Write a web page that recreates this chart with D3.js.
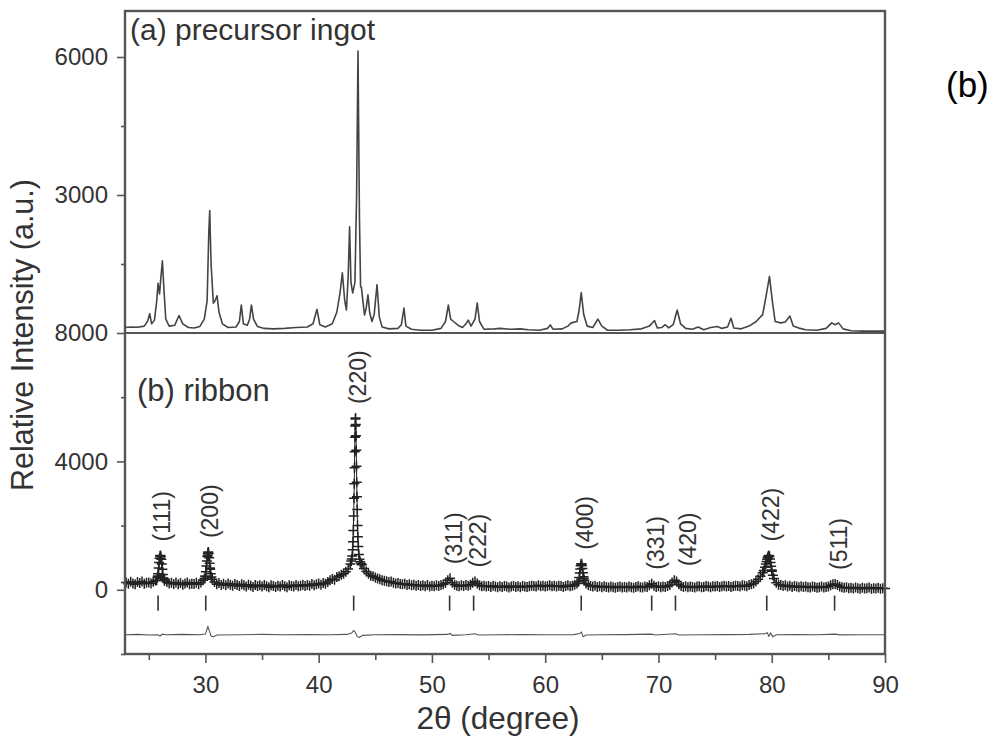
<!DOCTYPE html>
<html>
<head>
<meta charset="utf-8">
<script src="https://cdn.jsdelivr.net/npm/d3@7"></script>
<style>
  body { margin: 0; background: #fff; }
  svg { display: block; }
  text { font-family: "Liberation Sans", Arial, Helvetica, sans-serif; }
</style>
</head>
<body>
<svg id="chart" width="1000" height="737"></svg>
<script>
// ---- 2θ axis ----
const twoThetaRange = [22.9, 90];
const xMajorTicks = [30, 40, 50, 60, 70, 80, 90];
const xMinorTicks = [25, 35, 45, 55, 65, 75, 85];

// ---- intensity axes ----
const ingotRange = [0, 7000];
const ingotMajorTicks = [3000, 6000];
const ingotMinorTicks = [1500, 4500];
const ribbonRange = [-2000, 8000];
const ribbonMajorTicks = [0, 4000, 8000];
const ribbonMinorTicks = [-2000, 2000, 6000];

// ---- (a) precursor ingot: [2θ, intensity] ----
const ingotPattern = [
  [22.9,120],[23.5,130],[24.0,125],[24.6,150],[24.9,260],[25.08,420],[25.25,200],[25.5,280],
  [25.7,700],[25.82,1080],[25.95,850],[26.05,1150],[26.2,1570],[26.35,900],[26.5,300],[26.8,150],
  [27.3,170],[27.67,380],[28.0,200],[28.5,120],[29.0,110],[29.5,140],[29.9,300],[30.15,700],
  [30.3,2200],[30.38,2660],[30.5,1500],[30.7,650],[30.85,700],[31.03,810],[31.2,450],[31.5,200],
  [32.0,120],[32.7,130],[33.0,250],[33.17,610],[33.35,200],[33.7,170],[33.9,300],[34.06,610],
  [34.25,300],[34.6,140],[35.2,100],[36.0,90],[37.0,100],[38.0,120],[39.0,130],[39.5,200],
  [39.85,515],[40.1,180],[40.6,130],[41.2,200],[41.6,450],[41.9,900],[42.09,1310],[42.3,700],
  [42.45,500],[42.6,1200],[42.73,2310],[42.85,1100],[43.0,870],[43.2,1100],[43.35,3000],[43.47,6130],
  [43.6,2500],[43.7,1000],[43.77,1000],[43.9,700],[44.05,390],[44.2,550],[44.35,830],[44.5,450],
  [44.7,250],[44.9,400],[45.15,1050],[45.35,350],[45.6,130],[46.2,90],[47.0,100],[47.3,180],
  [47.53,540],[47.7,150],[48.2,80],[49.0,60],[50.0,60],[50.8,100],[51.2,250],[51.45,610],
  [51.65,300],[51.9,250],[52.3,170],[52.7,120],[53.0,200],[53.2,280],[53.45,150],[53.8,300],
  [54.0,650],[54.2,250],[54.6,80],[55.5,90],[56.0,100],[57.0,80],[57.8,90],[58.5,70],
  [59.5,60],[60.2,100],[60.45,175],[60.7,80],[61.5,90],[62.0,150],[62.3,220],[62.8,250],
  [63.0,500],[63.18,880],[63.4,400],[63.7,150],[64.2,120],[64.65,300],[65.0,150],[65.5,60],
  [66.5,60],[67.5,70],[68.5,90],[69.2,150],[69.65,270],[69.9,110],[70.3,120],[70.6,180],
  [70.9,110],[71.3,180],[71.65,500],[71.95,200],[72.4,100],[73.0,80],[73.5,130],[74.0,70],
  [74.6,120],[75.2,140],[75.6,100],[76.1,130],[76.4,320],[76.65,110],[77.3,90],[78.0,150],
  [78.6,245],[79.2,400],[79.5,800],[79.8,1230],[80.05,700],[80.3,250],[80.8,220],[81.2,240],
  [81.6,370],[81.9,150],[82.5,100],[83.0,70],[84.0,60],[84.8,100],[85.3,220],[85.6,180],
  [85.9,220],[86.3,90],[87.0,50],[88.0,40],[89.0,45],[90.0,40]
];

// ---- (b) ribbon, observed: step scan from 23.0° in 0.2° steps ----
const ribbonScanStart = 23.0;
const ribbonScanStep = 0.2;
const ribbonScan = [
  230,190,250,200,170,240,210,260,190,220,
  230,200,250,290,430,980,640,330,240,200,
  220,180,230,170,210,160,200,230,170,190,
  180,220,170,230,300,430,1080,680,330,240,
  170,210,150,190,140,200,160,130,180,150,
  120,170,140,100,160,130,90,150,120,140,
  100,150,110,80,140,120,90,130,100,150,
  110,80,140,120,100,150,110,130,160,120,
  150,130,180,140,170,200,160,210,190,240,
  300,340,310,400,420,470,500,560,650,800,
  1250,4750,2500,950,790,660,570,500,440,420,
  380,350,330,300,280,270,240,260,220,200,
  210,180,170,190,150,170,140,160,130,150,
  120,140,110,150,100,130,110,140,120,150,
  170,210,300,360,220,160,130,110,140,120,
  150,130,160,220,260,200,140,110,130,100,
  120,90,130,100,80,110,90,120,100,70,
  100,120,90,110,80,120,100,90,110,130,
  120,100,140,110,130,100,120,140,110,130,
  100,130,120,90,120,140,110,130,160,200,
  380,810,350,200,150,120,100,130,90,110,
  80,110,90,70,100,80,60,90,100,70,
  90,70,100,80,60,90,110,80,70,100,
  90,140,190,130,90,110,80,100,90,120,
  150,230,300,260,170,120,90,110,80,100,
  90,70,100,110,80,90,120,100,80,110,
  100,120,90,110,130,100,120,90,110,130,
  120,100,140,130,110,150,170,200,260,330,
  420,530,700,950,1040,620,350,220,160,150,
  120,140,100,130,90,120,100,80,110,90,
  100,80,70,100,90,60,80,100,70,90,
  100,140,170,180,150,100,80,60,80,50,
  60,40,70,50,30,60,40,50,70,30,
  50,40,60,30,50,40
];

// ---- (b) ribbon, observed: finer points across the main reflections [2θ, intensity] ----
const ribbonPeakPoints = [
  // (111)
  [25.70,300],[25.76,380],[25.82,500],[25.87,680],[25.91,850],[25.95,980],[25.99,1050],[26.03,1070],
  [26.07,1040],[26.11,950],[26.15,800],[26.19,640],[26.24,480],[26.30,360],[26.38,280],
  // (200)
  [29.92,350],[29.98,420],[30.04,560],[30.09,740],[30.13,900],[30.17,1040],[30.21,1140],[30.25,1175],
  [30.29,1130],[30.33,1000],[30.37,830],[30.42,640],[30.47,500],[30.53,400],
  // (220)
  [42.88,900],[42.92,960],[42.96,1050],[43.00,1250],[43.03,1500],[43.06,1850],[43.09,2300],[43.12,2850],
  [43.14,3300],[43.16,3800],[43.18,4300],[43.20,4750],[43.22,5100],[43.24,5320],[43.26,5350],[43.28,5150],
  [43.30,4800],[43.32,4350],[43.34,3850],[43.36,3350],[43.38,2900],[43.40,2500],[43.43,2000],[43.46,1650],
  [43.50,1350],[43.55,1100],[43.60,950],[43.66,870],[43.74,820],[43.82,780],
  // (400)
  [62.94,250],[63.00,380],[63.05,520],[63.09,650],[63.13,750],[63.17,805],[63.21,810],[63.25,760],
  [63.29,660],[63.33,530],[63.38,410],[63.45,300],
  // (422)
  [79.30,600],[79.40,700],[79.48,800],[79.54,880],[79.60,950],[79.65,1010],[79.70,1050],[79.75,1070],
  [79.80,1040],[79.85,960],[79.90,850],[79.95,730],[80.02,580],[80.10,450]
];

// ---- (b) ribbon, observed − calculated (offset) [2θ, intensity] ----
const ribbonDifference = [
  [22.9,-1400],[24,-1390],[25,-1410],[25.8,-1400],[26.0,-1440],[26.2,-1380],[26.5,-1400],[28,-1390],
  [29.5,-1400],[30.0,-1380],[30.12,-1250],[30.22,-1150],[30.32,-1250],[30.5,-1440],[30.7,-1470],[31,-1410],
  [33,-1400],[35,-1390],[37,-1400],[39,-1395],[41,-1400],[42.5,-1390],[42.9,-1350],[43.1,-1270],
  [43.25,-1330],[43.4,-1460],[43.6,-1480],[43.9,-1420],[45,-1400],[47,-1395],[49,-1405],[51.4,-1390],
  [51.6,-1360],[51.8,-1420],[53,-1400],[53.8,-1370],[54.1,-1410],[56,-1400],[58,-1395],[60,-1400],
  [62.5,-1395],[63.05,-1360],[63.2,-1320],[63.35,-1460],[63.6,-1410],[65,-1400],[67,-1395],[69.4,-1380],
  [69.7,-1410],[71.5,-1370],[71.8,-1410],[74,-1400],[76,-1395],[78,-1390],[79.4,-1370],[79.6,-1340],
  [79.75,-1450],[79.9,-1350],[80.1,-1460],[80.4,-1400],[82,-1395],[84,-1400],[85.6,-1380],[86,-1405],
  [88,-1400],[90,-1400]
];

// ---- Bragg reflections of the ribbon ----
const reflectionHkl = ["(111)","(200)","(220)","(311)","(222)","(400)","(331)","(420)","(422)","(511)"];
const reflectionPos = [25.82, 30.03, 43.09, 51.56, 53.68, 63.18, 69.40, 71.50, 79.56, 85.55];

// ---- text ----
const panelTitleA = "(a) precursor ingot";
const panelTitleB = "(b) ribbon";
const xTitle = "2θ (degree)";
const yTitle = "Relative Intensity (a.u.)";
const figureTag = "(b)";

// ================= drawing =================
const svg = d3.select("#chart");
const plotLeft = 125, plotRight = 885, plotTop = 11, plotBottom = 654;
const ink = "#333", axisInk = "#555";

const x = d3.scaleLinear().domain(twoThetaRange).range([plotLeft, plotRight]);
const yA = d3.scaleLinear().domain(ingotRange).range([333, plotTop]);
const yB = d3.scaleLinear().domain(ribbonRange).range([plotBottom, 333]);

// observed ribbon points: scan + finer points, sorted along 2θ
const ribbonObserved = ribbonScan
  .map((v, i) => [+(ribbonScanStart + i * ribbonScanStep).toFixed(2), v])
  .concat(ribbonPeakPoints)
  .sort((a, b) => a[0] - b[0]);

// (a) ingot pattern
svg.append("path")
  .datum(ingotPattern)
  .attr("fill", "none")
  .attr("stroke", "#444")
  .attr("stroke-width", 1.6)
  .attr("stroke-linejoin", "round")
  .attr("d", d3.line().x(d => x(d[0])).y(d => yA(d[1])));

// (b) thin profile through the observed points
svg.append("path")
  .datum(ribbonObserved)
  .attr("fill", "none")
  .attr("stroke", "#222")
  .attr("stroke-width", 1)
  .attr("d", d3.line().x(d => x(d[0])).y(d => yB(d[1])));

// (b) observed points as "+" markers
const arm = 5;
svg.append("path")
  .attr("fill", "none")
  .attr("stroke", "#222")
  .attr("stroke-width", 1.5)
  .attr("d", ribbonObserved.map(d => {
    const px = x(d[0]), py = yB(d[1]);
    return `M${px - arm},${py}h${2 * arm}M${px},${py - arm}v${2 * arm}`;
  }).join(""));

// (b) difference curve
svg.append("path")
  .datum(ribbonDifference)
  .attr("fill", "none")
  .attr("stroke", "#555")
  .attr("stroke-width", 1.1)
  .attr("d", d3.line().x(d => x(d[0])).y(d => yB(d[1])));

// Bragg position markers
svg.append("g").selectAll("line")
  .data(reflectionPos)
  .join("line")
  .attr("x1", d => x(d)).attr("x2", d => x(d))
  .attr("y1", yB(-180)).attr("y2", yB(-650))
  .attr("stroke", "#333")
  .attr("stroke-width", 1.6);

// hkl labels above each reflection's peak
const labelNudge = { "(420)": 8 };
svg.append("g").selectAll("text")
  .data(reflectionHkl.map((h, i) => ({ h, pos: reflectionPos[i] })))
  .join("text")
  .attr("transform", d => {
    const near = ribbonObserved.filter(p => Math.abs(p[0] - d.pos) <= 0.35);
    const peak = d3.max(near, p => p[1]);
    const px = x(d.pos) + 4 + (labelNudge[d.h] || 0);
    return `translate(${px},${yB(peak) - 14}) rotate(-90)`;
  })
  .attr("dy", "0.35em")
  .attr("text-anchor", "start")
  .attr("font-size", 23)
  .attr("fill", ink)
  .text(d => d.h);

// frame and panel divider
svg.append("rect")
  .attr("x", plotLeft).attr("y", plotTop)
  .attr("width", plotRight - plotLeft).attr("height", plotBottom - plotTop)
  .attr("fill", "none").attr("stroke", axisInk).attr("stroke-width", 2.4);
svg.append("line")
  .attr("x1", plotLeft).attr("x2", plotRight)
  .attr("y1", yA(0)).attr("y2", yA(0))
  .attr("stroke", axisInk).attr("stroke-width", 2.2);

// axes
function styleAxis(g) {
  g.select(".domain").remove();
  g.selectAll(".tick line").attr("stroke", axisInk).attr("stroke-width", 1.6);
  g.selectAll(".tick text")
    .attr("fill", ink)
    .attr("font-size", 24)
    .attr("font-family", "'Liberation Sans', Arial, sans-serif");
}
const fmt = d3.format("d");

svg.append("g").attr("transform", `translate(${plotLeft},0)`)
  .call(d3.axisLeft(yA).tickValues(ingotMajorTicks).tickSize(8).tickPadding(9).tickFormat(fmt))
  .call(styleAxis);
svg.append("g").attr("transform", `translate(${plotLeft},0)`)
  .call(d3.axisLeft(yA).tickValues(ingotMinorTicks).tickSize(4).tickFormat(""))
  .call(styleAxis);
svg.append("g").attr("transform", `translate(${plotLeft},0)`)
  .call(d3.axisLeft(yB).tickValues(ribbonMajorTicks).tickSize(8).tickPadding(9).tickFormat(fmt))
  .call(styleAxis);
svg.append("g").attr("transform", `translate(${plotLeft},0)`)
  .call(d3.axisLeft(yB).tickValues(ribbonMinorTicks).tickSize(4).tickFormat(""))
  .call(styleAxis);

svg.append("g").attr("transform", `translate(0,${plotBottom})`)
  .call(d3.axisBottom(x).tickValues(xMajorTicks).tickSize(9).tickPadding(13).tickFormat(fmt))
  .call(styleAxis);
svg.append("g").attr("transform", `translate(0,${plotBottom})`)
  .call(d3.axisBottom(x).tickValues(xMinorTicks).tickSize(6).tickFormat(""))
  .call(styleAxis);

// titles
svg.append("text")
  .attr("x", 130).attr("y", 40)
  .attr("font-size", 30).attr("fill", ink)
  .text(panelTitleA);
svg.append("text")
  .attr("x", 137).attr("y", 401)
  .attr("font-size", 31).attr("fill", ink)
  .text(panelTitleB);
svg.append("text")
  .attr("x", 498).attr("y", 729)
  .attr("text-anchor", "middle")
  .attr("font-size", 31.5).attr("fill", ink)
  .text(xTitle);
svg.append("text")
  .attr("transform", "translate(33,335) rotate(-90)")
  .attr("text-anchor", "middle")
  .attr("font-size", 30.5).attr("fill", ink)
  .text(yTitle);
svg.append("text")
  .attr("x", 946).attr("y", 97)
  .attr("font-size", 35)
  .attr("font-family", "'Open Sans', 'Noto Sans', sans-serif")
  .attr("fill", "#000")
  .text(figureTag);
</script>
</body>
</html>
